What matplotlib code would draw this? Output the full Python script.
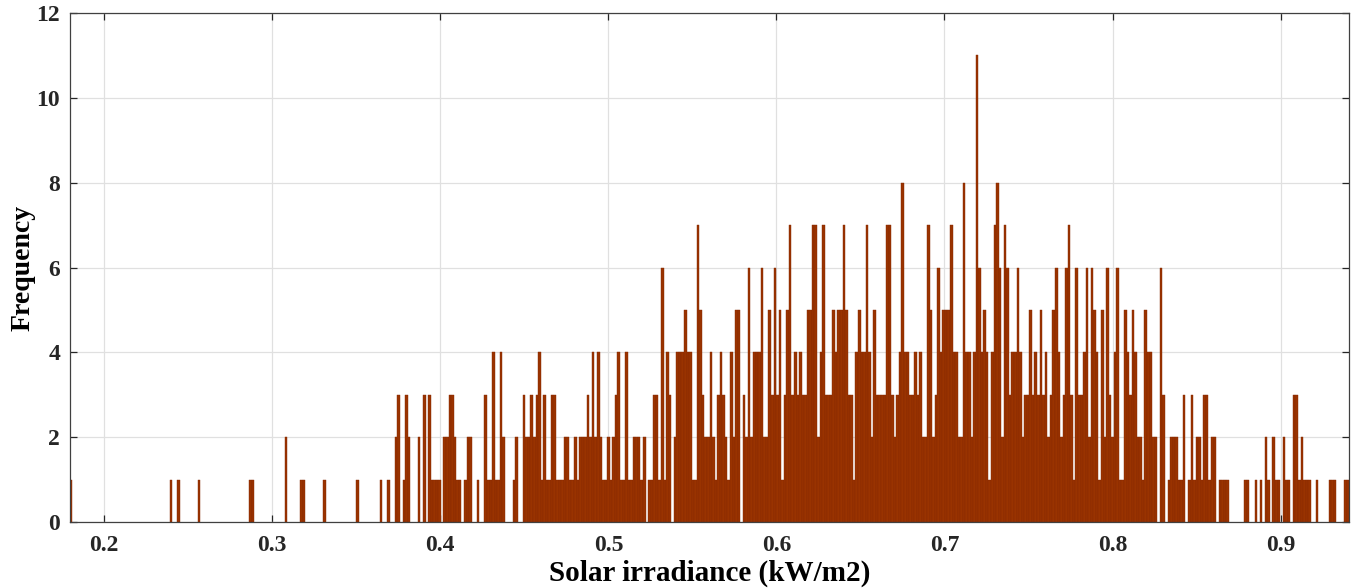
import numpy as np
import matplotlib
matplotlib.use("Agg")
import matplotlib.pyplot as plt

# irradiance range covered by the histogram and bin count
x_min, x_max = 0.1796, 0.9408
n_bins = 500

# counts per bin, 20 bins per row
counts = [
    1,0,0,0,0,0,0,0,0,0, 0,0,0,0,0,0,0,0,0,0,
    0,0,0,0,0,0,0,0,0,0, 0,0,0,0,0,0,0,0,0,1,
    0,0,1,0,0,0,0,0,0,0, 1,0,0,0,0,0,0,0,0,0,
    0,0,0,0,0,0,0,0,0,0, 1,1,0,0,0,0,0,0,0,0,
    0,0,0,0,2,0,0,0,0,0, 1,1,0,0,0,0,0,0,0,1,
    0,0,0,0,0,0,0,0,0,0, 0,0,1,0,0,0,0,0,0,0,
    0,1,0,0,1,0,0,2,3,0, 1,3,2,0,0,0,2,0,3,0,
    3,1,1,1,1,0,2,2,3,3, 2,1,1,0,1,2,2,0,0,1,
    0,0,3,1,1,4,1,1,4,2, 0,0,0,1,2,0,0,3,2,2,
    3,2,3,4,1,3,1,1,3,3, 1,1,1,2,2,1,1,2,1,2,
    2,2,3,2,4,2,4,2,1,1, 2,1,2,3,4,1,1,4,1,1,
    2,2,2,1,2,0,1,1,3,3, 1,6,1,4,3,0,2,4,4,4,
    5,4,4,1,1,7,5,3,2,2, 4,2,1,3,4,3,2,1,4,2,
    5,5,0,3,2,6,2,4,4,4, 6,2,2,5,3,6,3,5,1,3,
    5,7,3,4,3,4,3,3,5,5, 7,7,2,4,7,3,3,3,5,4,
    5,5,7,5,3,3,1,4,5,4, 4,7,4,2,5,3,3,3,3,7,
    7,3,2,3,4,8,4,4,3,3, 4,3,4,2,2,7,5,2,3,6,
    4,5,5,5,7,4,4,2,2,8, 4,4,2,4,11,6,4,5,4,1,
    4,7,8,6,2,7,6,3,4,4, 6,4,2,3,3,5,3,4,3,5,
    3,4,2,3,5,6,4,2,3,6, 7,3,1,6,3,3,4,6,2,6,
    5,4,1,5,2,6,3,2,4,6, 1,1,5,4,3,5,4,2,2,1,
    5,4,4,2,2,0,6,3,0,1, 2,2,2,1,1,3,0,1,3,1,
    2,2,1,3,3,1,2,2,0,1, 1,1,1,0,0,0,0,0,0,1,
    1,0,0,1,0,1,0,2,1,0, 2,1,1,0,2,1,1,0,3,3,
    1,2,1,1,1,0,0,1,0,0, 0,0,1,1,1,0,0,0,1,1,
]

x_ticks = [0.2, 0.3, 0.4, 0.5, 0.6, 0.7, 0.8, 0.9]
y_ticks = [0, 2, 4, 6, 8, 10, 12]

plt.rcParams['font.family'] = ['Liberation Serif', 'DejaVu Serif']
plt.rcParams['font.weight'] = 'bold'

counts = np.array(counts)
edges = np.linspace(x_min, x_max, n_bins + 1)
width = edges[1] - edges[0]
centers = edges[:-1] + width / 2
nz = counts > 0

fig = plt.figure(figsize=(13.58, 5.88), dpi=100)
ax = fig.add_axes([0.0515, 0.1122, 0.942, 0.8657])

ax.bar(centers[nz], counts[nz], width=width, color='#993300',
       edgecolor='#862800', linewidth=0.3, zorder=3)

ax.set_xlim(x_min, x_max)
ax.set_ylim(0, 12)
ax.set_xticks(x_ticks)
ax.set_yticks(y_ticks)
ax.set_xticklabels([f'{t:g}' for t in x_ticks])
ax.grid(True, color='#e0e0e0', linewidth=0.9, zorder=0)
ax.set_axisbelow(True)
ax.tick_params(direction='in', length=5, width=0.9, colors='#262626',
               labelsize=17, top=True, right=True)
ax.tick_params(axis='x', pad=9)
ax.tick_params(axis='y', pad=7)
for s in ax.spines.values():
    s.set_color('#404040')
    s.set_linewidth(0.9)
    s.set_zorder(4)

ax.set_xlabel('Solar irradiance (kW/m2)', fontsize=21, fontweight='bold', labelpad=3)
ax.set_ylabel('Frequency', fontsize=20, fontweight='bold', labelpad=1)

fig.savefig('out.png', dpi=100)
